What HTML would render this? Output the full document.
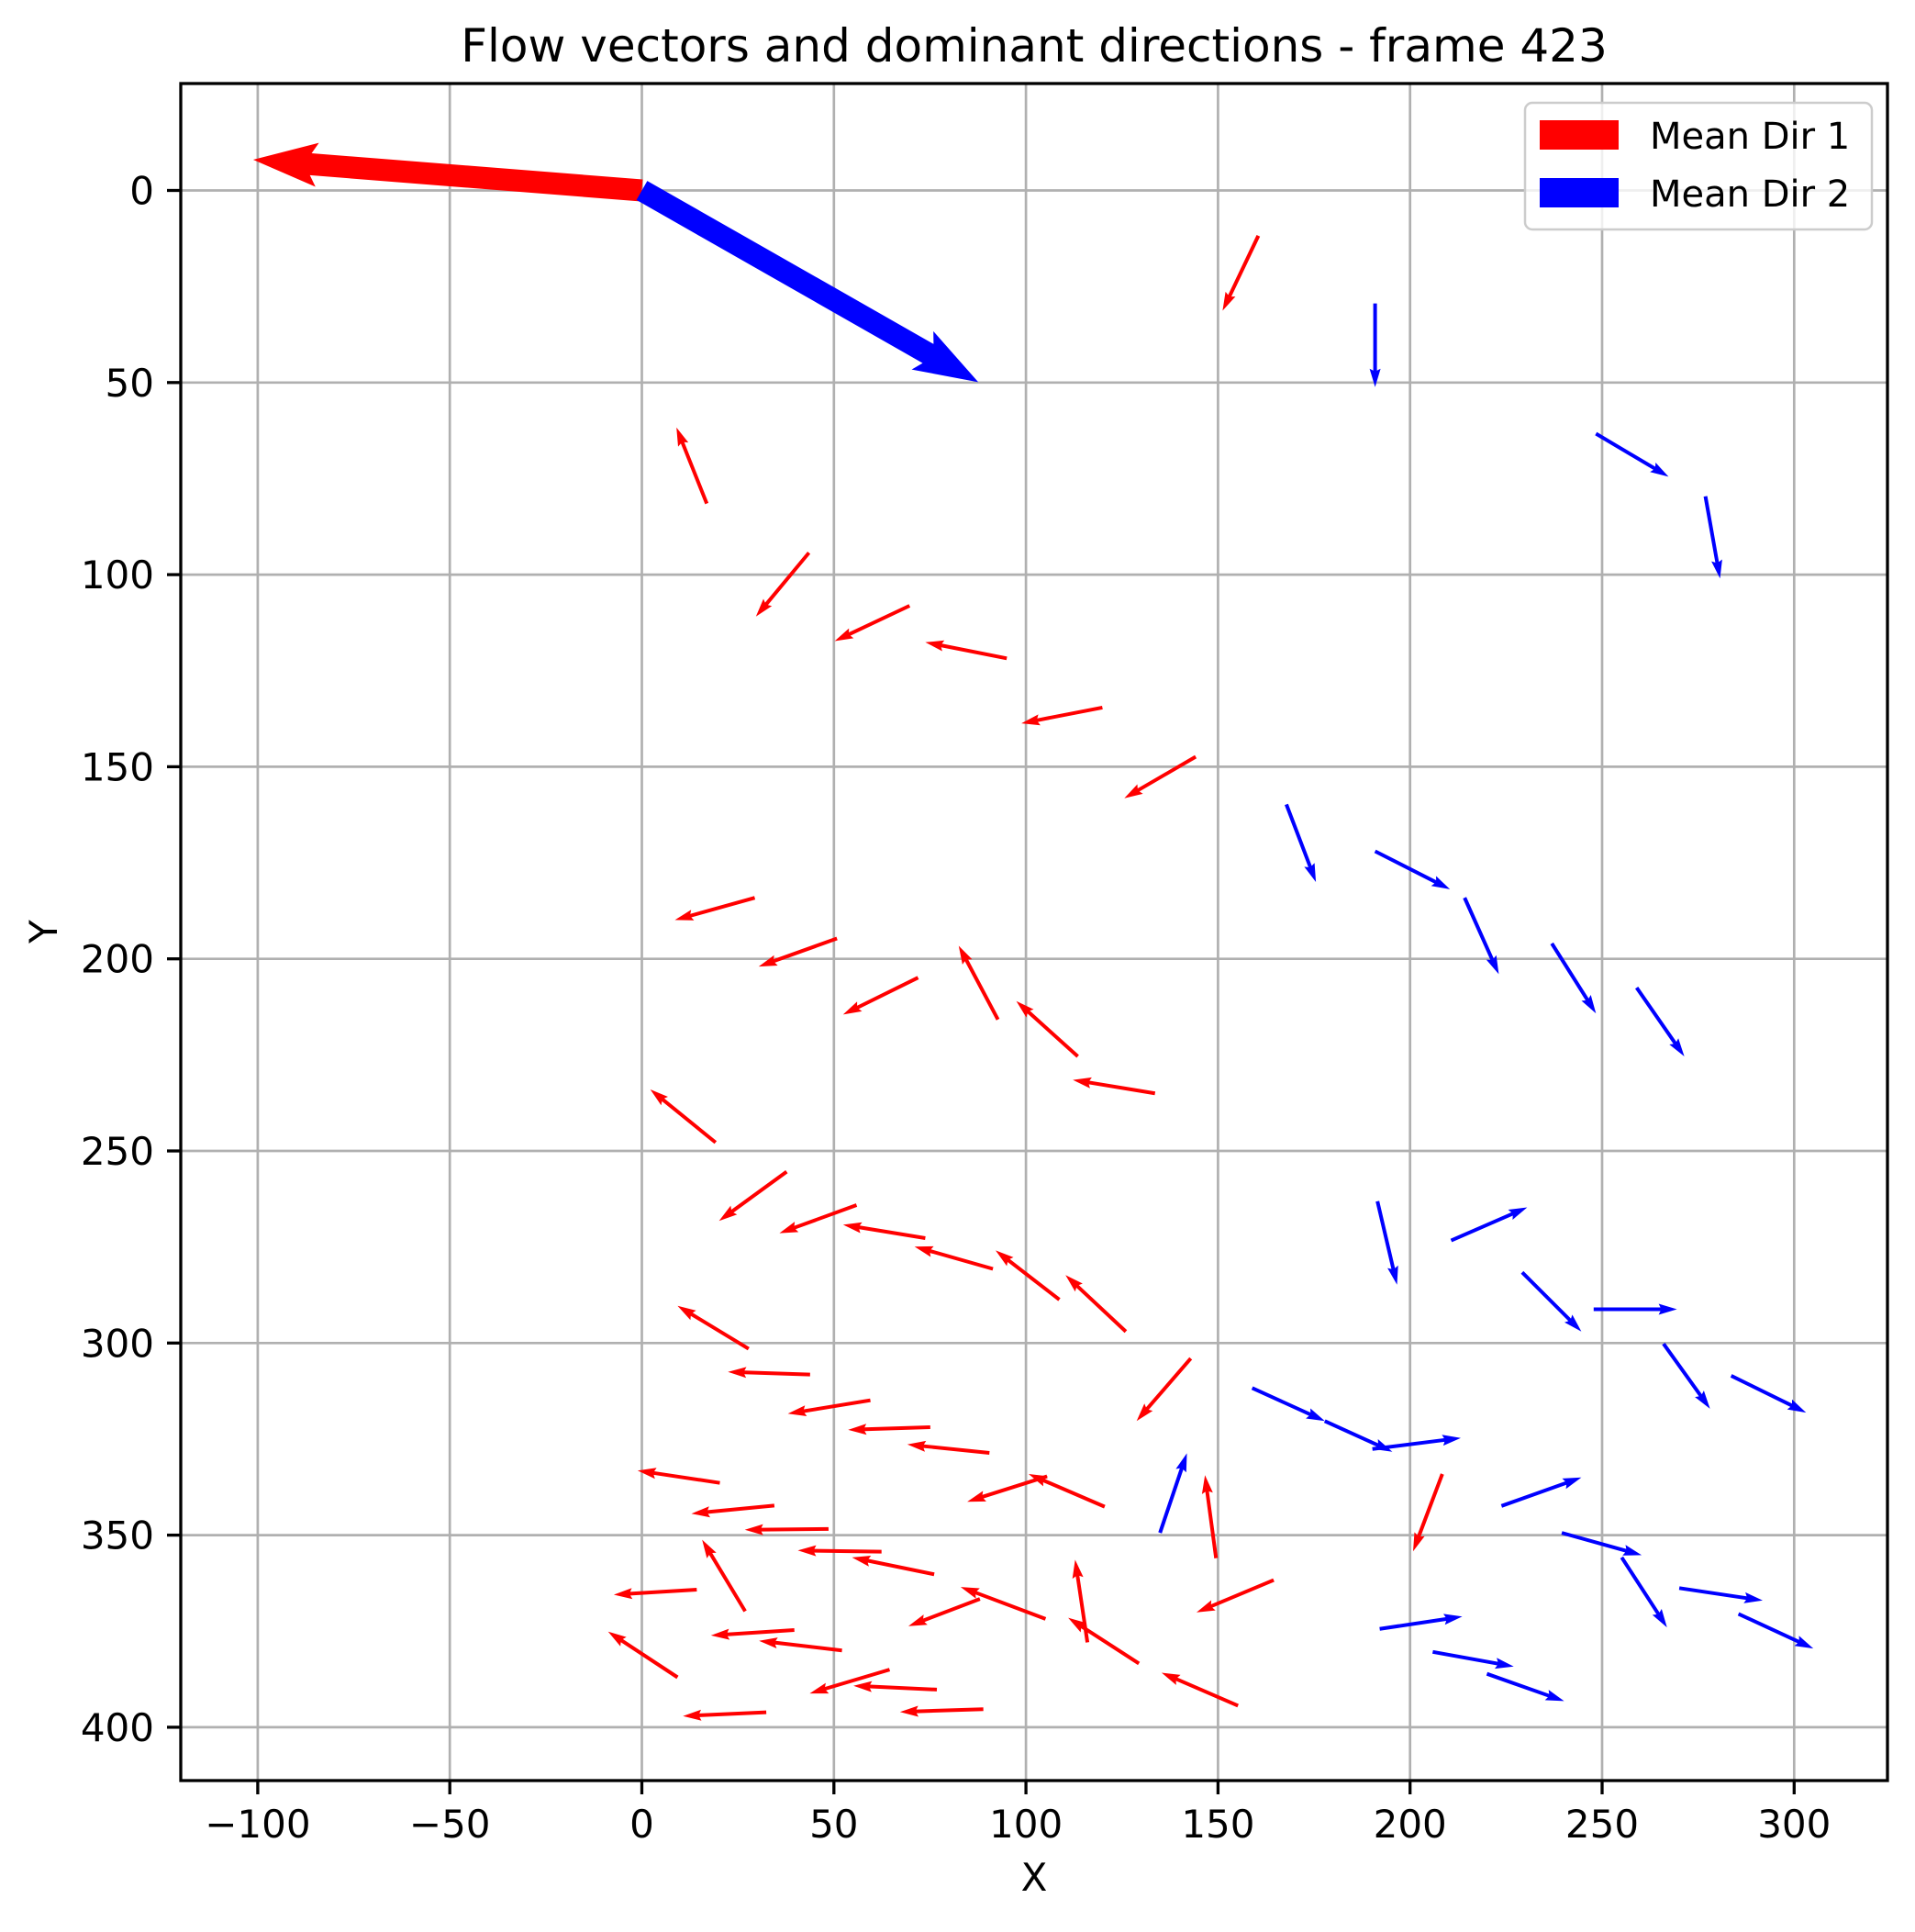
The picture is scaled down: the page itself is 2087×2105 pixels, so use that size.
<!DOCTYPE html>
<html><head><meta charset="utf-8"><style>
body{margin:0;background:#fff}
svg text{font-family:"DejaVu Sans","Liberation Sans",sans-serif;fill:#000}
</style></head><body>
<svg id="chart" width="2087" height="2100" viewBox="0 0 2087 2100" xmlns="http://www.w3.org/2000/svg">
<rect width="2087" height="2100" fill="#fff"/>
<g id="grid"></g>
<g id="marks"></g>
<g id="axes"></g>
<text x="1127" y="67" font-size="50" text-anchor="middle">Flow vectors and dominant directions - frame 423</text>
<text x="1127" y="2060" font-size="42" text-anchor="middle">X</text>
<text x="62" y="1015" font-size="42" text-anchor="middle" transform="rotate(-90 62 1015)">Y</text>
<g>
<rect x="1662" y="112" width="378" height="138" rx="8" fill="#fff" fill-opacity="0.8" stroke="#ccc" stroke-width="2.5"/>
<rect x="1678" y="131" width="86" height="32" fill="#f00"/>
<text x="1798" y="162" font-size="40">Mean Dir 1</text>
<rect x="1678" y="194" width="86" height="32" fill="#00f"/>
<text x="1798" y="225" font-size="40">Mean Dir 2</text>
</g>
</svg>
<script>
const xTicks=[-100,-50,0,50,100,150,200,250,300];
const yTicks=[0,50,100,150,200,250,300,350,400];
const redX=[160.5,16.9,43.5,69.7,95,119.9,144.2,29.4,50.8,71.9,92.7,113.5,133.6,19.2,37.7,55.9,73.8,91.4,108.7,126,27.8,43.8,59.5,75.1,90.5,142.9,20.3,34.5,48.6,62.4,76.1,105.1,88,120.5,105.5,26.9,14.3,9.3,39.7,52.1,64.5,76.8,88.9,32.4,149.5,164.5,116,129.4,155.2,208.4];
const redY=[11.8,81.5,94.3,108.1,121.8,134.6,147.4,184.1,194.7,204.9,215.8,225.4,235,247.8,255.4,264.1,272.7,280.7,288.7,297,301.5,308.2,314.9,321.9,328.6,304,336.4,342.3,348.4,354.3,360.2,371.8,366.6,342.6,334.7,369.8,364.2,387,374.7,380,385,390.2,395.3,396.1,356,361.7,377.9,383.4,394.4,334.1];
const redU=[-9.3,-7.9,-13.8,-19.5,-21.2,-21.1,-18.6,-20.8,-20.4,-19.5,-10.2,-16,-21.4,-17,-17.6,-20.1,-21.4,-20.4,-16.6,-15.7,-18.5,-21.4,-21.5,-21.4,-21.4,-14.1,-21.4,-21.6,-21.8,-21.8,-21.4,-22.1,-18.6,-19.8,-20.8,-11.2,-21.6,-18.1,-21.7,-21.6,-20.8,-21.7,-21.7,-21.7,-2.9,-20.1,-3.2,-18.4,-19.9,-7.6];
const redV=[19.5,-19.8,16.6,9.2,-4.2,4.1,10.8,5.8,7.3,9.6,-19.2,-14.4,-3.5,-13.8,12.8,7.3,-3.5,-5.8,-12.8,-14.7,-11.2,-0.7,3.5,0.7,-2.2,16.3,-3.2,2.1,0.2,-0.3,-4.4,-8.3,7.1,-8.5,6.6,-18.6,1.3,-11.9,1.4,-2.5,6.2,-1,0.7,1,-21.6,8.4,-21.5,-11.9,-8.6,20.1];
const blueX=[190.9,248.4,276.9,167.8,190.9,214.2,236.9,259,191.5,210.7,229.2,247.8,266,283.6,158.9,177.8,190.2,223.8,239.5,255.1,270.1,285.5,192.1,205.9,220,134.9];
const blueY=[29.4,63.3,79.6,159.8,172,184.1,196,207.5,263.1,273.3,281.6,291.2,300.2,308.5,311.7,320.3,327.6,342.4,349.4,355.8,363.8,370.5,374.4,380.4,386.1,349.4];
const blueU=[0,18.9,3.8,7.7,19.5,8.9,11.5,12.4,5.1,19.8,15.4,21.7,12.1,19.5,18.9,17.6,23,20.8,20.8,11.8,21.7,19.5,21.5,21.1,20.1,7];
const blueV=[21.8,11.2,21.4,20.2,9.9,19.9,18.2,17.9,21.7,-8.6,15.4,0,16.9,9.6,8.6,8,-2.9,-7.4,5.8,18.2,3.2,9,-3.2,3.8,7.1,-20.7];
const meanU=[-101.2,87.6];
const meanV=[-8.0,49.9];

const L=197,R=2057,T=91,B=1940;
const sx=v=>699.5+v*4.186;
const sy=v=>207.5+v*4.186;
const NS='http://www.w3.org/2000/svg';
const grid=document.getElementById('grid'),marks=document.getElementById('marks'),axes=document.getElementById('axes');
function mk(tag,attrs,parent){const e=document.createElementNS(NS,tag);for(const k in attrs)e.setAttribute(k,attrs[k]);parent.appendChild(e);return e;}
xTicks.forEach(t=>{const x=sx(t);
 const g=mk('line',{x1:x,x2:x,y1:T,y2:B,stroke:'#b0b0b0','stroke-width':2.7},grid);
 
 
 mk('line',{x1:x,x2:x,y1:B,y2:B+15,stroke:'#000','stroke-width':3.3},axes);
 const tx=mk('text',{x:x,y:2002,'font-size':42,'text-anchor':'middle'},axes);
 tx.textContent=t<0?'\u2212'+(-t):String(t);
 
 
});
yTicks.forEach(t=>{const y=sy(t);
 const g=mk('line',{x1:L,x2:R,y1:y,y2:y,stroke:'#b0b0b0','stroke-width':2.7},grid);
 
 
 mk('line',{x1:L-15,x2:L,y1:y,y2:y,stroke:'#000','stroke-width':3.3},axes);
 const tx=mk('text',{x:168,y:y+15,'font-size':42,'text-anchor':'end'},axes);
 tx.textContent=String(t);
 
 
});
const sp=mk('rect',{x:L,y:T,width:R-L,height:B-T,fill:'none',stroke:'#000','stroke-width':3.3},axes);



function arrow(x,y,u,v,color,w,hw,hl,ha,name){
 const x0=sx(x),y0=sy(y),x1=sx(x+u),y1=sy(y+v);
 const dx=x1-x0,dy=y1-y0,len=Math.hypot(dx,dy)||1;
 const ux=dx/len,uy=dy/len,nx=-uy,ny=ux;
 const s=Math.max(len-ha,0),b=Math.max(len-hl,0);
 const P=(d,o)=>(x0+ux*d+nx*o).toFixed(1)+','+(y0+uy*d+ny*o).toFixed(1);
 const pts=[P(0,w/2),P(s,w/2),P(b,hw/2),P(len,0),P(b,-hw/2),P(s,-w/2),P(0,-w/2)].join(' ');
 const p=mk('polygon',{points:pts,fill:color},marks);
 
 
}
redX.forEach((x,i)=>arrow(x,redY[i],redU[i],redV[i],'#f00',4,12,20,18,'flow-vector-red'));
blueX.forEach((x,i)=>arrow(x,blueY[i],blueU[i],blueV[i],'#00f',4,12,20,18,'flow-vector-blue'));
arrow(0,0,meanU[0],meanV[0],'#f00',24,48,70,63,'mean-dir-1-arrow');
arrow(0,0,meanU[1],meanV[1],'#00f',24,48,70,63,'mean-dir-2-arrow');
</script>
</body></html>
